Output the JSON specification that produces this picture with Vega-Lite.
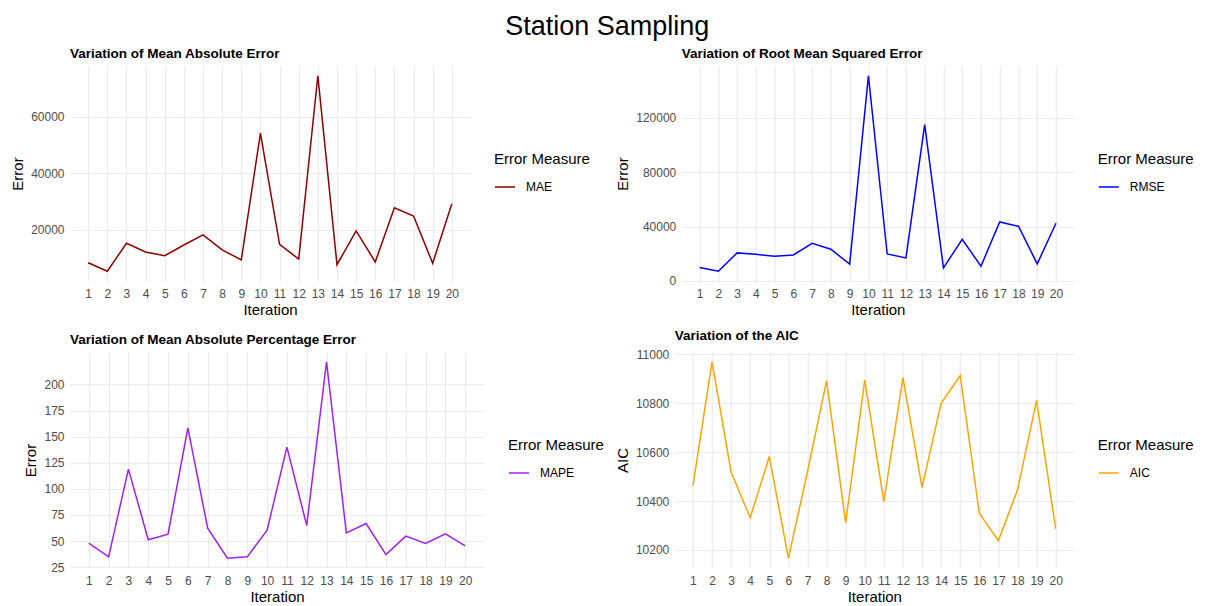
{
  "$schema": "https://vega.github.io/schema/vega-lite/v6.json",
  "padding": {"left": 10, "top": 12, "right": 5, "bottom": 0},
  "background": "white",
  "title": {"text": "Station Sampling", "fontSize": 27, "fontWeight": "normal", "font": "Liberation Sans", "color": "#000", "anchor": "middle", "frame": "bounds", "offset": 6, "dx": 5},
  "datasets": {
    "mae": [
      {"Iteration": 1, "Error": 8300, "Measure": "MAE"}, {"Iteration": 2, "Error": 5300, "Measure": "MAE"},
      {"Iteration": 3, "Error": 15200, "Measure": "MAE"}, {"Iteration": 4, "Error": 12100, "Measure": "MAE"},
      {"Iteration": 5, "Error": 10800, "Measure": "MAE"}, {"Iteration": 6, "Error": 14600, "Measure": "MAE"},
      {"Iteration": 7, "Error": 18200, "Measure": "MAE"}, {"Iteration": 8, "Error": 12900, "Measure": "MAE"},
      {"Iteration": 9, "Error": 9300, "Measure": "MAE"}, {"Iteration": 10, "Error": 54300, "Measure": "MAE"},
      {"Iteration": 11, "Error": 14800, "Measure": "MAE"}, {"Iteration": 12, "Error": 9600, "Measure": "MAE"},
      {"Iteration": 13, "Error": 74600, "Measure": "MAE"}, {"Iteration": 14, "Error": 7600, "Measure": "MAE"},
      {"Iteration": 15, "Error": 19600, "Measure": "MAE"}, {"Iteration": 16, "Error": 8600, "Measure": "MAE"},
      {"Iteration": 17, "Error": 27800, "Measure": "MAE"}, {"Iteration": 18, "Error": 24900, "Measure": "MAE"},
      {"Iteration": 19, "Error": 8100, "Measure": "MAE"}, {"Iteration": 20, "Error": 29200, "Measure": "MAE"}
    ],
    "rmse": [
      {"Iteration": 1, "Error": 9800, "Measure": "RMSE"}, {"Iteration": 2, "Error": 7100, "Measure": "RMSE"},
      {"Iteration": 3, "Error": 20600, "Measure": "RMSE"}, {"Iteration": 4, "Error": 19600, "Measure": "RMSE"},
      {"Iteration": 5, "Error": 18100, "Measure": "RMSE"}, {"Iteration": 6, "Error": 19100, "Measure": "RMSE"},
      {"Iteration": 7, "Error": 27700, "Measure": "RMSE"}, {"Iteration": 8, "Error": 23300, "Measure": "RMSE"},
      {"Iteration": 9, "Error": 12300, "Measure": "RMSE"}, {"Iteration": 10, "Error": 151000, "Measure": "RMSE"},
      {"Iteration": 11, "Error": 19800, "Measure": "RMSE"}, {"Iteration": 12, "Error": 16900, "Measure": "RMSE"},
      {"Iteration": 13, "Error": 115000, "Measure": "RMSE"}, {"Iteration": 14, "Error": 9600, "Measure": "RMSE"},
      {"Iteration": 15, "Error": 30600, "Measure": "RMSE"}, {"Iteration": 16, "Error": 10800, "Measure": "RMSE"},
      {"Iteration": 17, "Error": 43400, "Measure": "RMSE"}, {"Iteration": 18, "Error": 40200, "Measure": "RMSE"},
      {"Iteration": 19, "Error": 12500, "Measure": "RMSE"}, {"Iteration": 20, "Error": 42400, "Measure": "RMSE"}
    ],
    "mape": [
      {"Iteration": 1, "Error": 48.0, "Measure": "MAPE"}, {"Iteration": 2, "Error": 34.9, "Measure": "MAPE"},
      {"Iteration": 3, "Error": 118.9, "Measure": "MAPE"}, {"Iteration": 4, "Error": 51.2, "Measure": "MAPE"},
      {"Iteration": 5, "Error": 56.6, "Measure": "MAPE"}, {"Iteration": 6, "Error": 158.5, "Measure": "MAPE"},
      {"Iteration": 7, "Error": 62.3, "Measure": "MAPE"}, {"Iteration": 8, "Error": 33.6, "Measure": "MAPE"},
      {"Iteration": 9, "Error": 34.9, "Measure": "MAPE"}, {"Iteration": 10, "Error": 60.4, "Measure": "MAPE"},
      {"Iteration": 11, "Error": 140.0, "Measure": "MAPE"}, {"Iteration": 12, "Error": 64.9, "Measure": "MAPE"},
      {"Iteration": 13, "Error": 221.7, "Measure": "MAPE"}, {"Iteration": 14, "Error": 57.9, "Measure": "MAPE"},
      {"Iteration": 15, "Error": 66.8, "Measure": "MAPE"}, {"Iteration": 16, "Error": 37.1, "Measure": "MAPE"},
      {"Iteration": 17, "Error": 54.7, "Measure": "MAPE"}, {"Iteration": 18, "Error": 47.7, "Measure": "MAPE"},
      {"Iteration": 19, "Error": 56.9, "Measure": "MAPE"}, {"Iteration": 20, "Error": 45.4, "Measure": "MAPE"}
    ],
    "aic": [
      {"Iteration": 1, "AIC": 10463, "Measure": "AIC"}, {"Iteration": 2, "AIC": 10970, "Measure": "AIC"},
      {"Iteration": 3, "AIC": 10518, "Measure": "AIC"}, {"Iteration": 4, "AIC": 10332, "Measure": "AIC"},
      {"Iteration": 5, "AIC": 10582, "Measure": "AIC"}, {"Iteration": 6, "AIC": 10166, "Measure": "AIC"},
      {"Iteration": 7, "AIC": 10520, "Measure": "AIC"}, {"Iteration": 8, "AIC": 10892, "Measure": "AIC"},
      {"Iteration": 9, "AIC": 10312, "Measure": "AIC"}, {"Iteration": 10, "AIC": 10895, "Measure": "AIC"},
      {"Iteration": 11, "AIC": 10398, "Measure": "AIC"}, {"Iteration": 12, "AIC": 10905, "Measure": "AIC"},
      {"Iteration": 13, "AIC": 10456, "Measure": "AIC"}, {"Iteration": 14, "AIC": 10800, "Measure": "AIC"},
      {"Iteration": 15, "AIC": 10914, "Measure": "AIC"}, {"Iteration": 16, "AIC": 10350, "Measure": "AIC"},
      {"Iteration": 17, "AIC": 10238, "Measure": "AIC"}, {"Iteration": 18, "AIC": 10445, "Measure": "AIC"},
      {"Iteration": 19, "AIC": 10812, "Measure": "AIC"}, {"Iteration": 20, "AIC": 10286, "Measure": "AIC"}
    ]
  },
  "columns": 2,
  "align": {"row": "all", "column": "none"},
  "spacing": {"row": 10, "column": 10.8},
  "concat": [
    {
      "width": 400, "height": 215,
      "data": {"name": "mae"},
      "title": {"text": "Variation of Mean Absolute Error"},
      "mark": {"type": "line", "strokeWidth": 1.5},
      "encoding": {
        "x": {"field": "Iteration", "type": "quantitative", "scale": {"domain": [0.05, 20.95], "nice": false, "zero": false}, "axis": {"values": [1,2,3,4,5,6,7,8,9,10,11,12,13,14,15,16,17,18,19,20], "format": "d", "title": "Iteration"}},
        "y": {"field": "Error", "type": "quantitative", "scale": {"domain": [1835, 78065], "nice": false, "zero": false}, "axis": {"values": [20000, 40000, 60000], "format": "d", "title": "Error"}},
        "color": {"field": "Measure", "type": "nominal", "scale": {"domain": ["MAE"], "range": ["#8B0000"]}, "legend": {"title": "Error Measure", "orient": "none", "legendX": 424, "legendY": 86}}
      }
    },
    {
      "width": 392, "height": 215,
      "data": {"name": "rmse"},
      "title": {"text": "Variation of Root Mean Squared Error"},
      "mark": {"type": "line", "strokeWidth": 1.5},
      "encoding": {
        "x": {"field": "Iteration", "type": "quantitative", "scale": {"domain": [0.05, 20.95], "nice": false, "zero": false}, "axis": {"values": [1,2,3,4,5,6,7,8,9,10,11,12,13,14,15,16,17,18,19,20], "format": "d", "title": "Iteration"}},
        "y": {"field": "Error", "type": "quantitative", "scale": {"domain": [-95, 158195], "nice": false, "zero": false}, "axis": {"values": [0, 40000, 80000, 120000], "format": "d", "title": "Error"}},
        "color": {"field": "Measure", "type": "nominal", "scale": {"domain": ["RMSE"], "range": ["#0000FF"]}, "legend": {"title": "Error Measure", "orient": "none", "legendX": 416, "legendY": 86}}
      }
    },
    {
      "width": 414, "height": 216,
      "data": {"name": "mape"},
      "title": {"text": "Variation of Mean Absolute Percentage Error"},
      "mark": {"type": "line", "strokeWidth": 1.5},
      "encoding": {
        "x": {"field": "Iteration", "type": "quantitative", "scale": {"domain": [0.05, 20.95], "nice": false, "zero": false}, "axis": {"values": [1,2,3,4,5,6,7,8,9,10,11,12,13,14,15,16,17,18,19,20], "format": "d", "title": "Iteration"}},
        "y": {"field": "Error", "type": "quantitative", "scale": {"domain": [24.2, 231.1], "nice": false, "zero": false}, "axis": {"values": [25, 50, 75, 100, 125, 150, 175, 200], "format": "d", "title": "Error"}},
        "color": {"field": "Measure", "type": "nominal", "scale": {"domain": ["MAPE"], "range": ["#A020F0"]}, "legend": {"title": "Error Measure", "orient": "none", "legendX": 438, "legendY": 86}}
      }
    },
    {
      "width": 399, "height": 216,
      "data": {"name": "aic"},
      "title": {"text": "Variation of the AIC"},
      "mark": {"type": "line", "strokeWidth": 1.5},
      "encoding": {
        "x": {"field": "Iteration", "type": "quantitative", "scale": {"domain": [0.05, 20.95], "nice": false, "zero": false}, "axis": {"values": [1,2,3,4,5,6,7,8,9,10,11,12,13,14,15,16,17,18,19,20], "format": "d", "title": "Iteration"}},
        "y": {"field": "AIC", "type": "quantitative", "scale": {"domain": [10126, 11010], "nice": false, "zero": false}, "axis": {"values": [10200, 10400, 10600, 10800, 11000], "format": "d", "title": "AIC"}},
        "color": {"field": "Measure", "type": "nominal", "scale": {"domain": ["AIC"], "range": ["#FFA500"]}, "legend": {"title": "Error Measure", "orient": "none", "legendX": 423, "legendY": 86}}
      }
    }
  ],
  "resolve": {"scale": {"x": "independent", "y": "independent", "color": "independent"}, "legend": {"color": "independent"}},
  "config": {
    "font": "Liberation Sans",
    "view": {"stroke": null},
    "axis": {"domain": false, "ticks": false, "grid": true, "gridColor": "#EBEBEB", "gridWidth": 1.2, "labelFont": "Liberation Sans", "labelFontSize": 12, "labelColor": "#4D4D4D", "labelPadding": 6, "titleFont": "Liberation Sans", "titleFontSize": 15, "titleFontWeight": "normal", "titleColor": "#000"},
    "axisX": {"labelAngle": 0, "labelPadding": 7, "titlePadding": 3},
    "axisY": {"titlePadding": 5},
    "legend": {"titleFont": "Liberation Sans", "labelFont": "Liberation Sans", "titleFontSize": 15, "titleFontWeight": "normal", "labelFontSize": 12, "titleColor": "#000", "labelColor": "#000", "symbolSize": 400, "symbolStrokeWidth": 1.5, "titlePadding": 9, "labelOffset": 10, "padding": 0},
    "title": {"font": "Liberation Sans", "fontSize": 13.5, "fontWeight": "bold", "color": "#000", "anchor": "start", "frame": "group", "offset": 6}
  }
}
